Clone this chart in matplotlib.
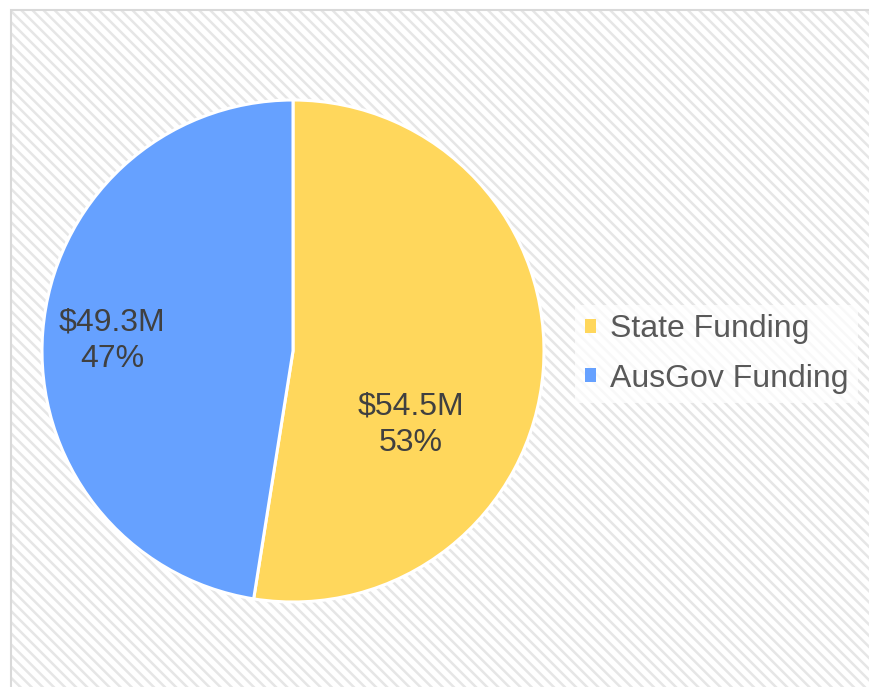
import matplotlib
matplotlib.use("Agg")
import matplotlib.pyplot as plt
from matplotlib.patches import Rectangle

plt.rcParams['font.family'] = ['Liberation Sans', 'DejaVu Sans']
plt.rcParams['hatch.linewidth'] = 1.8

categories = ["State Funding", "AusGov Funding"]
values = [54.5, 49.3]
value_labels = ["$54.5M", "$49.3M"]
colors = ["#FFD75C", "#66A1FF"]

W, H = 870, 687
fig = plt.figure(figsize=(W / 100, H / 100), dpi=100)
fig.patch.set_facecolor("white")

# hatched chart-area background
x0, ytop = 11 / W, (H - 10) / H
bg = Rectangle((x0, 0), 1 - x0, ytop, transform=fig.transFigure,
               facecolor="white", edgecolor="#e6e6e6", hatch="\\\\\\",
               linewidth=0, zorder=0)
fig.add_artist(bg)
border = Rectangle((x0, -0.01), 1 - x0 + 0.01, ytop + 0.01, transform=fig.transFigure,
                   facecolor="none", edgecolor="#d9d9d9", linewidth=1.5, zorder=1)
fig.add_artist(border)

cx, cy, r = 293, H - 351, 251
ax = fig.add_axes([(cx - r) / W, (cy - r) / H, 2 * r / W, 2 * r / H])
ax.set_facecolor("none")
wedges, _ = ax.pie(values, colors=colors, startangle=90, counterclock=False,
                   radius=1.0, wedgeprops=dict(edgecolor="white", linewidth=2.2))
ax.set_xlim(-1, 1)
ax.set_ylim(-1, 1)
ax.set_aspect("equal")
ax.axis("off")

total = sum(values)
label_pos = [(0.470, -0.295), (-0.721, 0.042)]
for (lx, ly), vl, v in zip(label_pos, value_labels, values):
    ax.text(lx, ly, f"{vl}\n{round(v / total * 100):.0f}%", ha="center", va="center",
            fontsize=23, color="#404040", linespacing=1.3)

leg = fig.legend(wedges, categories, loc="center left",
                 bbox_to_anchor=(575 / W, (H - 354) / H),
                 fontsize=23, frameon=True, fancybox=False,
                 handlelength=0.36, handleheight=0.3, handletextpad=0.42,
                 labelspacing=0.62, borderpad=0.3, borderaxespad=0)
for t in leg.get_texts():
    t.set_color("#595959")
frame = leg.get_frame()
frame.set_facecolor("white")
frame.set_alpha(0.75)
frame.set_linewidth(0)
for h in leg.legend_handles:
    h.set_linewidth(0)

fig.savefig("out.png", dpi=100)
